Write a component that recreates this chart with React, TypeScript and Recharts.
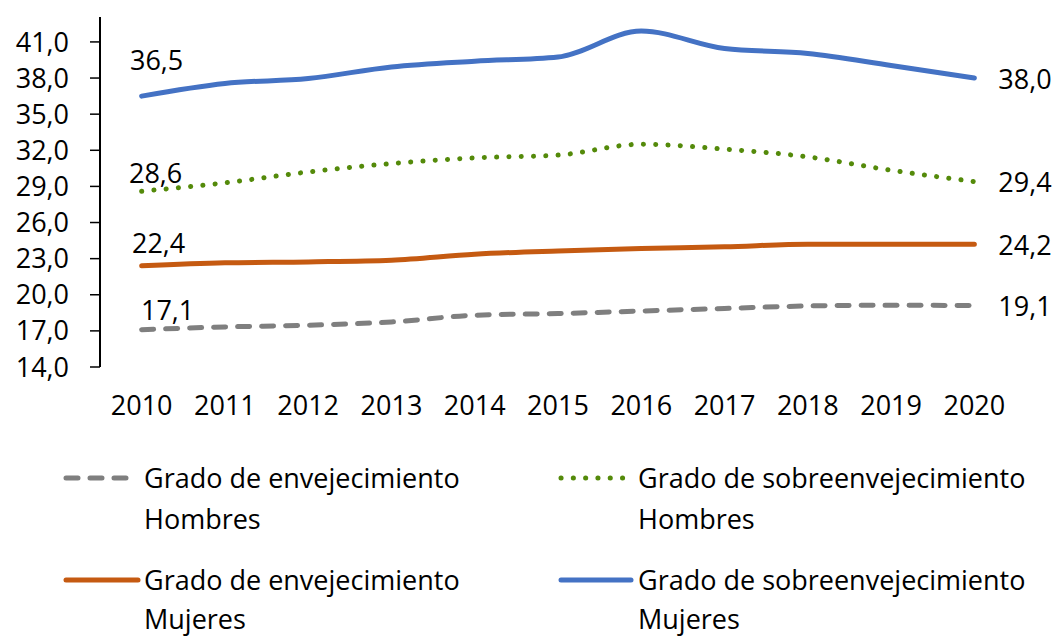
import React from 'react';
import { LineChart, Line, XAxis, YAxis, LabelList } from 'recharts';

const years = ['2010', '2011', '2012', '2013', '2014', '2015', '2016', '2017', '2018', '2019', '2020'];
const envejHombres = [17.1, 17.33, 17.47, 17.74, 18.3, 18.44, 18.65, 18.86, 19.07, 19.13, 19.1];
const sobreHombres = [28.6, 29.3, 30.2, 30.9, 31.37, 31.6, 32.5, 32.1, 31.45, 30.34, 29.4];
const envejMujeres = [22.4, 22.65, 22.73, 22.87, 23.37, 23.64, 23.84, 23.98, 24.2, 24.2, 24.2];
const sobreMujeres = [36.5, 37.55, 37.96, 38.92, 39.4, 39.75, 41.9, 40.45, 40.04, 39.04, 38.0];
const yTicks = [14, 17, 20, 23, 26, 29, 32, 35, 38, 41];

const data = years.map((year, i) => ({
  idx: i,
  year,
  envejHombres: envejHombres[i],
  sobreHombres: sobreHombres[i],
  envejMujeres: envejMujeres[i],
  sobreMujeres: sobreMujeres[i],
}));

const FONT = '"Open Sans", sans-serif';
const fmt = (v: number) => v.toFixed(1).replace('.', ',');

// legend: icon from iconLeft to iconLeft+iconW, text starts at textLeft
const series = [
  { key: 'envejHombres', name: 'Grado de envejecimiento Hombres', color: '#7F7F7F', dash: '12 12', firstDx: 26, firstDy: -20, legend: { iconLeft: 66, textLeft: 144, top: 457, lh: 41, iconW: 62 } },
  { key: 'sobreHombres', name: 'Grado de sobreenvejecimiento Hombres', color: '#548A0A', dash: '0.1 12.2', firstDx: 14, firstDy: -19, legend: { iconLeft: 561, textLeft: 638, top: 457, lh: 41, iconW: 66 } },
  { key: 'envejMujeres', name: 'Grado de envejecimiento Mujeres', color: '#C55A11', dash: undefined, firstDx: 17, firstDy: -23, legend: { iconLeft: 66, textLeft: 144, top: 560, lh: 39, iconW: 72 } },
  { key: 'sobreMujeres', name: 'Grado de sobreenvejecimiento Mujeres', color: '#4472C4', dash: undefined, firstDx: 15, firstDy: -37, legend: { iconLeft: 561, textLeft: 638, top: 560, lh: 39, iconW: 70 } },
];

const makeLabel = (firstDx: number, firstDy: number) => (props: any) => {
  const { x, y, value, index } = props;
  if (index === 0) {
    return (
      <text x={x + firstDx} y={y + firstDy} textAnchor="middle" dominantBaseline="central" fontSize={27} fontFamily={FONT} fill="#000">
        {fmt(value)}
      </text>
    );
  }
  if (index === years.length - 1) {
    return (
      <text x={x + 24} y={y} textAnchor="start" dominantBaseline="central" fontSize={27} fontFamily={FONT} fill="#000">
        {fmt(value)}
      </text>
    );
  }
  return null;
};

const boundaryTicks = years.map((_, i) => i - 0.5).concat(years.length - 0.5);
const labelTicks = years.map((_, i) => i);

export default function App() {
  return (
    <div style={{ position: 'absolute', left: 0, top: 0, width: 1055, height: 637, background: '#fff', fontFamily: FONT, overflow: 'hidden' }}>
      <LineChart width={1055} height={637} data={data} margin={{ top: 17, right: 39, left: 0, bottom: 210 }}>
        <XAxis
          xAxisId="main"
          type="number"
          dataKey="idx"
          domain={[-0.5, years.length - 0.5]}
          ticks={boundaryTicks}
          tickFormatter={() => ''}
          tickSize={9}
          height={0}
          axisLine={{ stroke: '#000', strokeWidth: 2 }}
          tickLine={{ stroke: '#000', strokeWidth: 1.5 }}
        />
        <XAxis
          xAxisId="labels"
          type="number"
          dataKey="idx"
          domain={[-0.5, years.length - 0.5]}
          ticks={labelTicks}
          tickFormatter={(v: number) => years[v]}
          axisLine={false}
          tickLine={false}
          tickSize={0}
          tickMargin={29}
          height={60}
          interval={0}
          tick={{ fontSize: 27, fill: '#000', fontFamily: FONT }}
        />
        <YAxis
          type="number"
          domain={[14, 43.07]}
          ticks={yTicks}
          interval={0}
          width={100}
          tickSize={10}
          tickMargin={21}
          tickFormatter={fmt}
          axisLine={{ stroke: '#000', strokeWidth: 2 }}
          tickLine={{ stroke: '#000', strokeWidth: 1.5 }}
          tick={{ fontSize: 27, fill: '#000', fontFamily: FONT }}
        />
        {series.map((s) => (
          <Line
            key={s.key}
            xAxisId="main"
            type="monotone"
            dataKey={s.key}
            name={s.name}
            stroke={s.color}
            strokeWidth={5}
            strokeDasharray={s.dash}
            strokeLinecap="round"
            dot={false}
            activeDot={false}
            isAnimationActive={false}
          >
            <LabelList dataKey={s.key} content={makeLabel(s.firstDx, s.firstDy)} />
          </Line>
        ))}
      </LineChart>
      {series.map((s) => {
        const cut = s.name.lastIndexOf(' ');
        return (
          <React.Fragment key={s.key}>
            <svg
              width={s.legend.iconW + 6}
              height={10}
              style={{ position: 'absolute', left: s.legend.iconLeft - 3, top: s.legend.top + s.legend.lh / 2 - 5, display: 'block' }}
            >
              <line
                x1={3}
                y1={5}
                x2={s.legend.iconW + 3}
                y2={5}
                stroke={s.color}
                strokeWidth={5}
                strokeDasharray={s.dash}
                strokeLinecap="round"
              />
            </svg>
            <div
              style={{
                position: 'absolute',
                left: s.legend.textLeft,
                top: s.legend.top,
                fontSize: 27,
                lineHeight: `${s.legend.lh}px`,
                color: '#000',
                whiteSpace: 'nowrap',
              }}
            >
              <div>{s.name.slice(0, cut)}</div>
              <div>{s.name.slice(cut + 1)}</div>
            </div>
          </React.Fragment>
        );
      })}
    </div>
  );
}
